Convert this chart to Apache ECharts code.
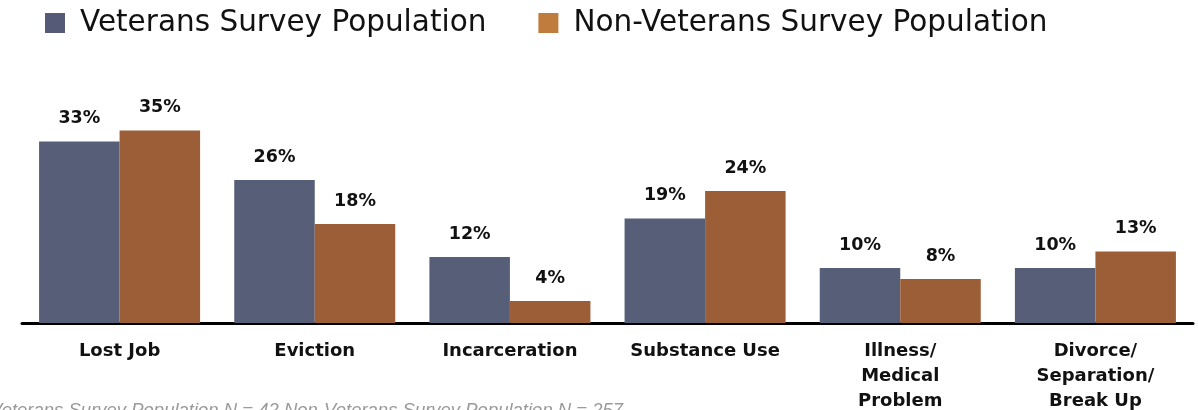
<!DOCTYPE html>
<html>
<head>
<meta charset="utf-8">
<script src="https://cdn.jsdelivr.net/npm/echarts@6/dist/echarts.min.js"></script>
<style>
  html, body { margin: 0; padding: 0; background: #fff; }
  #chart { width: 1198px; height: 410px; }
</style>
</head>
<body>
<div id="chart"></div>
<script>
const categories = ['Lost Job', 'Eviction', 'Incarceration', 'Substance Use', 'Illness/\nMedical\nProblem', 'Divorce/\nSeparation/\nBreak Up']
const veterans = [33, 26, 12, 19, 10, 10]
const nonVeterans = [35, 18, 4, 24, 8, 13]
const seriesNames = ['Veterans Survey Population', 'Non-Veterans Survey Population']
const footnote = 'Veterans Survey Population N = 42 Non-Veterans Survey Population N = 257'

const font = '"DejaVu Sans", "Noto Sans", sans-serif'

const chart = echarts.init(document.getElementById('chart'))
const barLabel = {
  show: true,
  position: 'top',
  distance: 14,
  formatter: '{c}%',
  color: '#111',
  fontFamily: font,
  fontWeight: 'bold',
  fontSize: 17.5
}
chart.setOption({
  animation: false,
  legend: {
    left: 40,
    top: 3,
    itemWidth: 20,
    itemHeight: 20,
    itemGap: 52,
    icon: 'rect',
    textStyle: { fontFamily: font, fontSize: 29.5, color: '#111', padding: [0, 0, 0, 10] },
    data: [
      { name: seriesNames[0], itemStyle: { color: '#555b76' } },
      { name: seriesNames[1], itemStyle: { color: '#c07c3c' } }
    ]
  },
  grid: {
    left: 22,
    right: 5,
    top: 103,
    bottom: 87,
    outerBoundsMode: 'none'
  },
  xAxis: {
    type: 'category',
    data: categories,
    axisTick: { show: false },
    axisLine: { lineStyle: { color: '#000', width: 3 } },
    axisLabel: {
      interval: 0,
      margin: 16,
      color: '#111',
      fontFamily: font,
      fontWeight: 'bold',
      fontSize: 18,
      lineHeight: 25,
      verticalAlign: 'top'
    }
  },
  yAxis: {
    type: 'value',
    min: 0,
    max: 40,
    show: false
  },
  series: [
    {
      name: seriesNames[0],
      type: 'bar',
      data: veterans,
      barGap: '0%',
      barCategoryGap: '17.5%',
      itemStyle: { color: '#565e78' },
      label: barLabel
    },
    {
      name: seriesNames[1],
      type: 'bar',
      data: nonVeterans,
      itemStyle: { color: '#9c5e36' },
      label: barLabel
    }
  ],
  graphic: [
    {
      type: 'text',
      left: -10,
      top: 401,
      style: {
        text: footnote,
        fill: '#9a9a9a',
        font: 'italic 18.5px "Liberation Sans", Arial, sans-serif'
      }
    }
  ]
})
</script>
</body>
</html>
